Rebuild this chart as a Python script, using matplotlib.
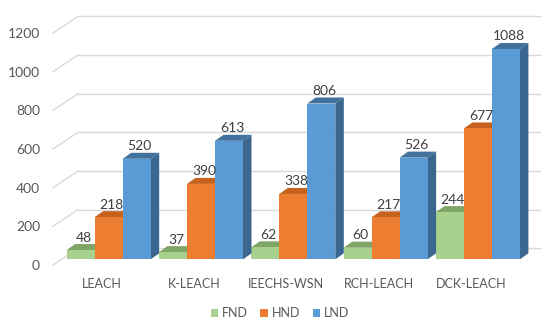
import matplotlib
matplotlib.use('Agg')
from matplotlib import pyplot
from matplotlib.patches import Polygon, Patch
import numpy as np

categories = ['LEACH', 'K-LEACH', 'IEECHS-WSN', 'RCH-LEACH', 'DCK-LEACH']
series = ['FND', 'HND', 'LND']
fnd = [48, 37, 62, 60, 244]
hnd = [218, 390, 338, 217, 677]
lnd = [520, 613, 806, 526, 1088]
yticks = [0, 200, 400, 600, 800, 1000, 1200]

front_colors = ['#A9D18E', '#ED7D31', '#5B9BD5']
top_colors = ['#7FA566', '#C4621E', '#41719C']
side_colors = ['#86AE6C', '#B55A1C', '#3A6690']

pyplot.rcParams['font.family'] = ['Lato', 'DejaVu Sans']

W, H = 550, 327
SX = 92.3     # pixels per category step
SY = 0.1933   # pixels per value unit
X0 = 108.7    # pixel x of first group centre (bar front plane)
Y0 = 259.3    # pixel y of value 0 on the bar front plane


def dx(p):
    return p / SX


def dy(p):
    return p / SY


fig = pyplot.figure(figsize=(W / 100, H / 100), dpi=100)
ax = fig.add_axes([0, 0, 1, 1])
ax.set_xlim(-X0 / SX, (W - X0) / SX)
ax.set_ylim((Y0 - H) / SY, Y0 / SY)
ax.axis('off')

x = np.arange(len(categories))
width = dx(28)
depth_x, depth_y = dx(8.5), dy(6)

# back wall gridlines + slanted floor edge
wall_left, wall_right = dx(78 - X0), dx(540 - X0)
for t in yticks:
    yb = t + dy(11)
    ax.plot([wall_left, wall_right], [yb, yb], color='#D9D9D9', lw=1, zorder=1)
    ax.plot([dx(53 - X0), wall_left], [t - dy(5.7), yb], color='#D9D9D9', lw=1, zorder=1)
    ax.text(dx(40 - X0), t - dy(5.7), str(t), ha='right', va='center_baseline',
            fontsize=10, color='#595959')

for k, vals in enumerate([fnd, hnd, lnd]):
    offs = (k - 1) * width
    z = 2 + 2 * k
    ax.bar(x + offs, vals, width, color=front_colors[k], zorder=z + 1)
    for xi, v in zip(x, vals):
        xl = xi + offs - width / 2
        xr = xi + offs + width / 2
        side = Polygon([(xr, 0), (xr + depth_x, depth_y), (xr + depth_x, v + depth_y), (xr, v)],
                       closed=True, facecolor=side_colors[k], edgecolor='none', zorder=z)
        top = Polygon([(xl, v), (xr, v), (xr + depth_x, v + depth_y), (xl + depth_x, v + depth_y)],
                      closed=True, facecolor=top_colors[k], edgecolor='none', zorder=z)
        ax.add_patch(side)
        ax.add_patch(top)
        ax.text(xi + offs + dx(3), v + depth_y + dy(2.5), str(v), ha='center', va='baseline',
                fontsize=10, color='#404040', zorder=10)

for xi, c in zip(x, categories):
    ax.text(xi - dx(7), -dy(23.4), c, ha='center', va='center_baseline',
            fontsize=9, color='#595959')

handles = [Patch(facecolor=front_colors[k], edgecolor='none') for k in range(3)]
fig.legend(handles, series, loc='center', bbox_to_anchor=(280 / W, 1 - 313 / H), ncol=3,
           frameon=False, fontsize=9, handlelength=0.6, handleheight=0.6,
           handletextpad=0.3, columnspacing=1.0, labelcolor='#595959')

pyplot.savefig('out.png', dpi=100)
